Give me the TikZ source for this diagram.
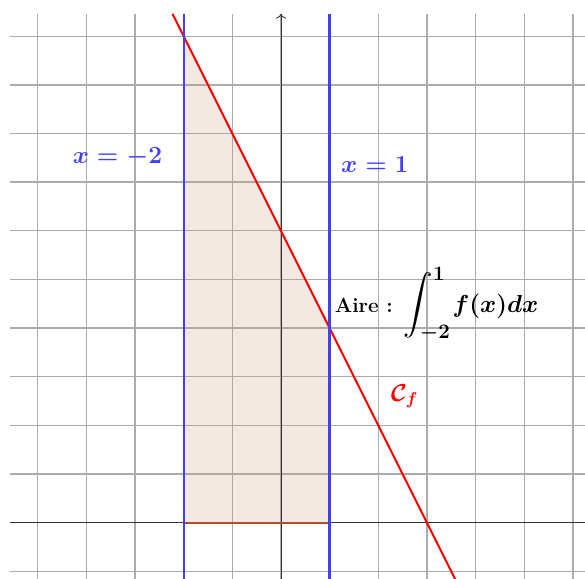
\documentclass[tikz,border=0pt]{standalone}
\usepackage{amsmath,amssymb}
\usetikzlibrary{arrows.meta}
\definecolor{lineblue}{RGB}{64,64,255}
\definecolor{areabrown}{RGB}{200,150,125}
\definecolor{edgebrown}{RGB}{176,80,40}
\newcommand{\airetext}{{\large\bfseries Aire~:}\hspace{0.22cm}{\LARGE\boldmath$\displaystyle\int_{-2}^{1}$}\hspace{0.04cm}{\Large\boldmath$f(x)dx$}}

\begin{document}
\begin{tikzpicture}[
  gridline/.style={draw=black!33, line width=0.8pt},
  axis/.style={draw=black!80, line width=0.55pt},
  area/.style={fill=areabrown, fill opacity=0.22},
  border/.style={lineblue, line width=1.35pt},
  curve/.style={red, line width=1.2pt},
  lbl/.style={inner sep=0pt, font=\Large\boldmath},
]

\useasboundingbox (-5.776,-1.157) rectangle (6.249,10.744);

\draw[gridline] (-5.57,-1.16) grid (6.25,10.46);

\fill[area] (-2,0) -- (-2,10) -- (1,4) -- (1,0) -- cycle;

\draw[axis] (-5.57,0) -- (6.25,0);
\draw[axis, ->] (0,-1.16) -- (0,10.46);

\draw[edgebrown, line width=1pt] (-2,0) -- (1,0);

\draw[curve] (-2.23,10.46) -- (3.58,-1.16);

\draw[border] (-2,-1.16) -- (-2,10.46);
\draw[border] (1,-1.16) -- (1,10.46);

\node[lbl, lineblue] (leftlbl) at (-3.36,7.51) {$x=-2$};
\node[lbl, lineblue] (rightlbl) at (1.93,7.36) {$x=1$};
\node[lbl, red] (cflbl) at (2.54,2.6) {$\mathcal{C}_f$};
\node[inner sep=0pt, anchor=base west] (aire) at (1.1,4.32) {\airetext};

\end{tikzpicture}
\end{document}
